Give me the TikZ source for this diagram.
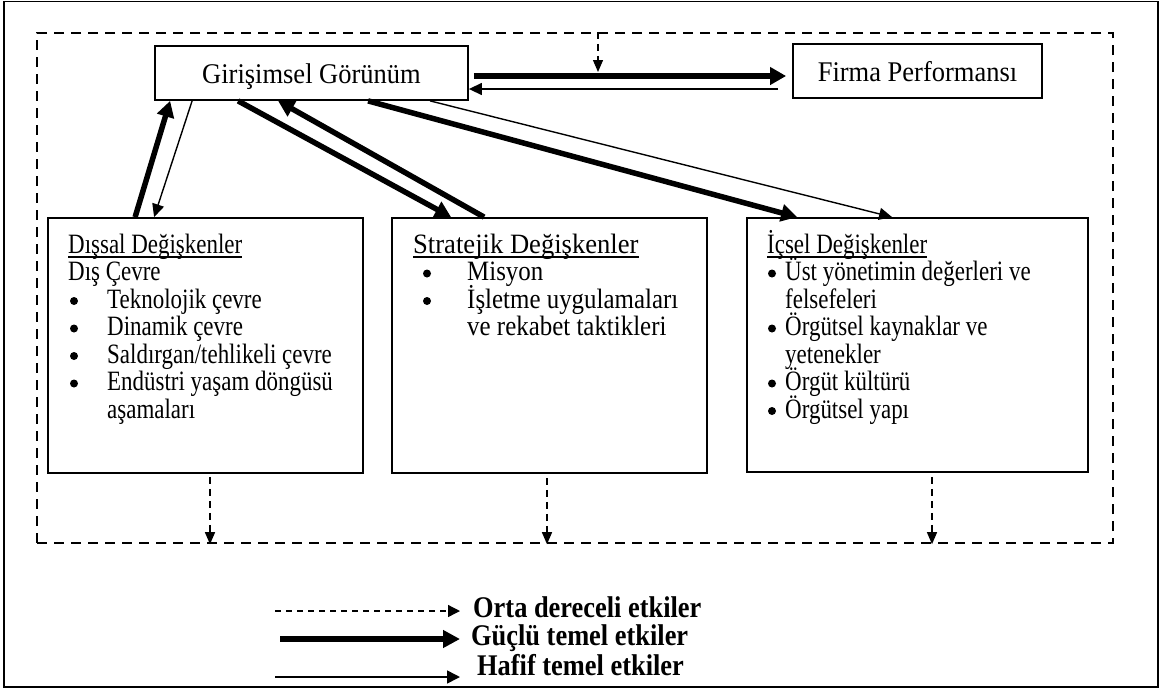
\documentclass[tikz,border=0pt]{standalone}
\usepackage{fontspec}
\setmainfont{Liberation Serif}
\newfontfamily\bodyfont[FakeStretch=0.82]{Liberation Serif}
\newfontfamily\stratfont[FakeStretch=0.89]{Liberation Serif}
\newfontfamily\strathead[FakeStretch=0.95]{Liberation Serif}
\newfontfamily\headfont[FakeStretch=0.93]{Liberation Serif}
\newfontfamily\keyfont[FakeStretch=0.88]{Liberation Serif}
\usetikzlibrary{arrows.meta,calc}

% underline that sits close to the baseline, crossing descenders
\newcommand\ulword[1]{\setbox0\hbox{#1}\rlap{\rule[-4.6pt]{\wd0}{1.3pt}}\box0}
\newcommand\bodysize{\bodyfont\fontsize{28pt}{27.5pt}\selectfont}
\newcommand\stratsize{\stratfont\fontsize{28pt}{27.5pt}\selectfont}
\newcommand\titlesize{\headfont\fontsize{28.5pt}{32pt}\selectfont}
\newcommand\legendsize{\keyfont\fontsize{30pt}{32pt}\selectfont\bfseries}
% list line whose height never changes the line pitch
\newcommand\tx[1]{\smash{#1}}

\begin{document}
\begin{tikzpicture}[x=1pt,y=-1pt,
  box/.style={draw, line width=1.8pt, rectangle, inner sep=0pt},
  headbox/.style={box, minimum height=54pt, text height=20pt, text depth=0pt, font=\titlesize},
  varbox/.style={box, minimum height=255pt},
  frame/.style={draw, line width=2.4pt, dash pattern=on 10pt off 7pt, rectangle, inner sep=0pt},
  listtext/.style={anchor=base west, inner sep=0pt, font=\bodysize},
  legendtext/.style={anchor=base west, inner sep=0pt, font=\legendsize},
  dot/.style={fill=black},
  strong/.style={line width=5.5pt, -{Triangle[length=16pt,width=17pt]}},
  weak/.style={line width=1.4pt, -{Triangle[length=13pt,width=12pt]}},
  moderate/.style={line width=1.3pt, dash pattern=on 7pt off 5pt, -{Triangle[length=12pt,width=10pt]}},
  lgmoderate/.style={line width=1.3pt, dash pattern=on 6pt off 5pt, -{Triangle[length=12pt,width=12pt]}},
  lgstrong/.style={line width=6.5pt, -{Triangle[length=17pt,width=17pt]}},
  lgweak/.style={line width=1.6pt, -{Triangle[length=13pt,width=13pt]}}
]
\useasboundingbox (0,0) rectangle (1169,691);

% outer border
\draw[line width=1.6pt] (4,1.5) rectangle (1158,687);

% dashed frame around the model
\node[frame, minimum width=1076pt, minimum height=510pt] (frame) at (575,288) {};

% top row
\node[headbox, minimum width=313pt] (gir) at (311.5,73) {Girişimsel Görünüm};
\node[headbox, minimum width=249pt] (firma) at (917.5,71) {Firma Performansı};

% variable groups
\node[varbox, minimum width=315pt] (dis) at (205.5,345.5) {};
\node[varbox, minimum width=315pt] (str) at (549.5,345.5) {};
\node[varbox, minimum width=341pt, minimum height=254pt] (ic) at (917.5,345) {};

\node[listtext] (distext) at (68,253) {%
\begin{tabular}[t]{@{}p{39pt}@{}l@{}}
\multicolumn{2}{@{}l@{}}{\tx{\ulword{Dışsal Değişkenler}}}\\
\multicolumn{2}{@{}l@{}}{\tx{Dış Çevre}}\\
&\tx{Teknolojik çevre}\\
&\tx{Dinamik çevre}\\
&\tx{Saldırgan/tehlikeli çevre}\\
&\tx{Endüstri yaşam döngüsü}\\
&\tx{aşamaları}
\end{tabular}};

\node[listtext, font=\stratsize] (strtext) at (413,253) {%
\begin{tabular}[t]{@{}p{54pt}@{}l@{}}
\multicolumn{2}{@{}l@{}}{\tx{\strathead\ulword{Stratejik Değişkenler}}}\\
&\tx{Misyon}\\
&\tx{İşletme uygulamaları}\\
&\tx{ve rekabet taktikleri}
\end{tabular}};

\node[listtext] (ictext) at (767,253) {%
\begin{tabular}[t]{@{}p{18pt}@{}l@{}}
\multicolumn{2}{@{}l@{}}{\tx{\ulword{İçsel Değişkenler}}}\\
&\tx{Üst yönetimin değerleri ve}\\
&\tx{felsefeleri}\\
&\tx{Örgütsel kaynaklar ve}\\
&\tx{yetenekler}\\
&\tx{Örgüt kültürü}\\
&\tx{Örgütsel yapı}
\end{tabular}};

% list bullets, one line pitch (27.5) apart
\foreach \k in {2,...,5}
  \fill[dot] ($(distext.base west)+(6,{27.5*\k-7})$) circle (4pt);
\foreach \k in {1,2}
  \fill[dot] ($(strtext.base west)+(14,{27.5*\k-7})$) circle (4pt);
\foreach \k in {1,3,5,6}
  \fill[dot] ($(ictext.base west)+(5,{27.5*\k-7})$) circle (4pt);

% links between the entrepreneurial orientation and the groups
\draw[strong] ($(dis.north west)+(88,0)$) -- ($(gir.south west)+(16,0)$);
\draw[weak]   ($(gir.south west)+(38,0)$) -- ($(dis.north west)+(107,0)$);
\draw[strong] ($(gir.south west)+(84,0)$) -- ($(str.north west)+(60,0)$);
\draw[strong] ($(str.north west)+(93,0)$) -- ($(gir.south west)+(124,0)$);
\draw[strong] ($(gir.south west)+(214,0)$) -- ($(ic.north west)+(51,0)$);
\draw[weak]   ($(gir.south west)+(276,0)$) -- ($(ic.north west)+(146,0)$);

% links to firm performance
\draw[strong] ($(gir.east)+(5,3)$) -- ($(firma.west)+(-6,5)$);
\draw[weak]   ($(firma.west)+(-14,18)$) -- ($(gir.east)+(0,16)$);

% moderating effects
\coordinate (drop) at (598,72);
\draw[moderate] (frame.north -| drop) -- (drop);

\coordinate (d1) at ([xshift=4.5pt]dis.south);
\coordinate (d2) at ([xshift=-2.5pt]str.south);
\coordinate (d3) at ([xshift=14.5pt]ic.south);
\draw[moderate] ([yshift=-3pt]d1) -- (d1 |- frame.south);
\draw[moderate] ([yshift=-4pt]d2) -- (d2 |- frame.south);
\draw[moderate] ([yshift=-4pt]d3) -- (d3 |- frame.south);

% legend
\node[legendtext] (lgmod) at (473,617) {Orta dereceli etkiler};
\node[legendtext] (lgstr) at (471,645) {Güçlü temel etkiler};
\node[legendtext] (lgwk)  at (477,675) {Hafif temel etkiler};
\coordinate (l1) at (275,611);
\coordinate (l2) at (280,639);
\coordinate (l3) at (275,677);
\draw[lgmoderate] (l1) -- ($(lgmod.base west)+(-13,-6)$);
\draw[lgstrong]   (l2) -- ($(lgstr.base west)+(-11,-6)$);
\draw[lgweak]     (l3) -- ($(lgwk.base west)+(-17,2)$);
\end{tikzpicture}
\end{document}
